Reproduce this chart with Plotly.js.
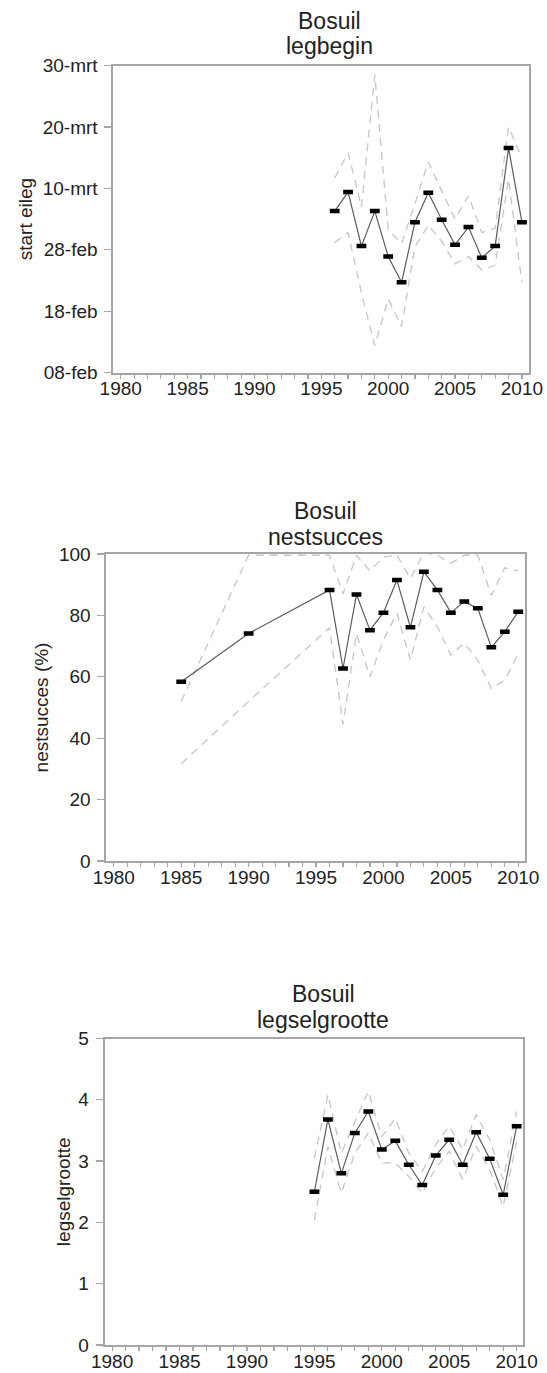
<!DOCTYPE html>
<html>
<head>
<meta charset="utf-8">
<script src="https://cdn.plot.ly/plotly-3.0.1.min.js"></script>
<style>html,body{margin:0;padding:0;background:#fff;}#chart{width:547px;height:1373px;}</style>
</head>
<body>
<div id="chart"></div>
<script>
// ---------- data ----------
const xTickVals = [1980, 1985, 1990, 1995, 2000, 2005, 2010];

// Panel 1: legbegin (day of year; 39 = 08-feb ... 89 = 30-mrt)
const years1 = [1996, 1997, 1998, 1999, 2000, 2001, 2002, 2003, 2004, 2005, 2006, 2007, 2008, 2009, 2010];
const legbegin      = [65.3, 68.4, 59.6, 65.3, 57.9, 53.7, 63.5, 68.3, 63.9, 59.8, 62.7, 57.7, 59.6, 75.6, 63.5];
const legbeginUpper = [70.7, 74.8, 66.0, 87.5, 62.3, 60.0, 66.5, 73.3, 68.6, 64.0, 67.8, 61.8, 62.5, 79.0, 74.0];
const legbeginLower = [60.2, 61.8, 52.0, 43.4, 51.0, 46.5, 59.5, 63.0, 60.4, 56.7, 57.9, 55.7, 56.5, 70.5, 53.7];
const dateTickVals  = [39, 49, 59, 69, 79, 89];
const dateTickText  = ["08-feb", "18-feb", "28-feb", "10-mrt", "20-mrt", "30-mrt"];

// Panel 2: nestsucces (%)
const years2 = [1985, 1990, 1996, 1997, 1998, 1999, 2000, 2001, 2002, 2003, 2004, 2005, 2006, 2007, 2008, 2009, 2010];
const nest      = [58.4, 74.1, 88.3, 62.7, 86.8, 75.2, 80.9, 91.5, 76.1, 94.2, 88.3, 80.9, 84.5, 82.3, 69.6, 74.7, 81.2];
const nestUpper = [52.0, 99.6, 99.6, 87.0, 99.6, 94.5, 99.0, 99.6, 92.0, 100.5, 99.6, 97.0, 99.6, 99.6, 86.6, 95.5, 94.5];
const nestLower = [31.7, 52.0, 76.0, 44.5, 74.0, 60.0, 72.0, 80.7, 65.4, 82.8, 76.3, 67.0, 71.0, 65.4, 56.2, 58.9, 67.5];

// Panel 3: legselgrootte
const years3 = [1995, 1996, 1997, 1998, 1999, 2000, 2001, 2002, 2003, 2004, 2005, 2006, 2007, 2008, 2009, 2010];
const clutch      = [2.50, 3.68, 2.80, 3.46, 3.81, 3.19, 3.33, 2.94, 2.61, 3.09, 3.35, 2.94, 3.47, 3.04, 2.45, 3.57];
const clutchUpper = [3.05, 4.08, 3.13, 3.62, 4.14, 3.40, 3.70, 3.13, 2.83, 3.27, 3.57, 3.19, 3.76, 3.35, 2.70, 3.81];
const clutchLower = [2.04, 3.24, 2.48, 3.13, 3.46, 2.97, 2.97, 2.75, 2.48, 2.89, 3.16, 2.70, 3.24, 2.86, 2.26, 3.32];

const titleLine1 = ["Bosuil", "Bosuil", "Bosuil"];
const titleLine2 = ["legbegin", "nestsucces", "legselgrootte"];
const yTitles = ["start eileg", "nestsucces (%)", "legselgrootte"];

// ---------- styling ----------
const FONT = "Liberation Sans, Arial, sans-serif";
const frameColor = "#a6a6a6";
const dashColor = "#c6c6c6";

function panelTraces(xs, mid, up, lo, n) {
  const xa = n === 1 ? "x" : "x" + n, ya = n === 1 ? "y" : "y" + n;
  const dash = {mode: "lines", line: {color: dashColor, width: 1.3, dash: "8px,6px"}, xaxis: xa, yaxis: ya, hoverinfo: "skip", showlegend: false};
  return [
    Object.assign({x: xs, y: up}, dash),
    Object.assign({x: xs, y: lo}, dash),
    {x: xs, y: mid, mode: "lines+markers", xaxis: xa, yaxis: ya, showlegend: false,
     line: {color: "#5a5a5a", width: 1.2},
     marker: {symbol: "line-ew", size: 7, line: {width: 4.5, color: "#000"}}}
  ];
}

const data = [].concat(
  panelTraces(years1, legbegin, legbeginUpper, legbeginLower, 1),
  panelTraces(years2, nest, nestUpper, nestLower, 2),
  panelTraces(years3, clutch, clutchUpper, clutchLower, 3)
);

const W = 547, H = 1373;
function px(v) { return v / W; }
function py(v) { return 1 - v / H; }

function xAxis(l, r, anchor) {
  return {
    domain: [px(l), px(r)], anchor: anchor, range: [1979.45, 2010.5],
    tickmode: "array", tickvals: xTickVals, ticks: "outside", ticklen: 4, tickwidth: 1.2, tickcolor: frameColor,
    ticklabelstandoff: -6,
    minor: {dtick: 1, tick0: 1980, ticks: "outside", ticklen: 4, tickwidth: 1.2, tickcolor: frameColor},
    showline: true, linecolor: frameColor, linewidth: 2, mirror: true,
    showgrid: false, zeroline: false,
    tickfont: {family: FONT, size: 19, color: "#222"}
  };
}
function yAxis(t, b, anchor, extra, title, standoff) {
  return Object.assign({
    domain: [py(b), py(t)], anchor: anchor,
    ticks: "outside", ticklen: 7, tickwidth: 1.2, tickcolor: frameColor,
    ticklabelstandoff: 3,
    showline: true, linecolor: frameColor, linewidth: 2, mirror: true,
    showgrid: false, zeroline: false,
    tickfont: {family: FONT, size: 19, color: "#222"},
    title: {text: title, font: {family: FONT, size: 19, color: "#222"}, standoff: standoff}
  }, extra);
}

const titlePos = [[329, 21, 46], [325, 511, 537], [323, 994, 1020]];
const annotations = [];
titlePos.forEach((p, i) => {
  [[titleLine1[i], p[1]], [titleLine2[i], p[2]]].forEach(t => {
    annotations.push({
      xref: "paper", yref: "paper", x: px(p[0]), y: py(t[1]), xanchor: "center", yanchor: "middle",
      showarrow: false, text: t[0], font: {family: FONT, size: 23, color: "#222"}
    });
  });
});

const layout = {
  width: W, height: H,
  margin: {l: 0, r: 0, t: 0, b: 0},
  paper_bgcolor: "#fff", plot_bgcolor: "#fff",
  showlegend: false,
  xaxis:  xAxis(113.4, 528.6, "y"),
  yaxis:  yAxis(65.7, 372.5, "x", {range: [39, 89], tickmode: "array", tickvals: dateTickVals, ticktext: dateTickText}, yTitles[0], 5),
  xaxis2: xAxis(106.4, 525, "y2"),
  yaxis2: yAxis(554, 861, "x2", {range: [0, 100], tickmode: "array", tickvals: [0, 20, 40, 60, 80, 100]}, yTitles[1], 5),
  xaxis3: xAxis(104.7, 523.4, "y3"),
  yaxis3: yAxis(1038.5, 1345, "x3", {range: [0, 5], tickmode: "array", tickvals: [0, 1, 2, 3, 4, 5]}, yTitles[2], 3),
  annotations: annotations
};

Plotly.newPlot("chart", data, layout, {staticPlot: true, displayModeBar: false});
</script>
</body>
</html>
